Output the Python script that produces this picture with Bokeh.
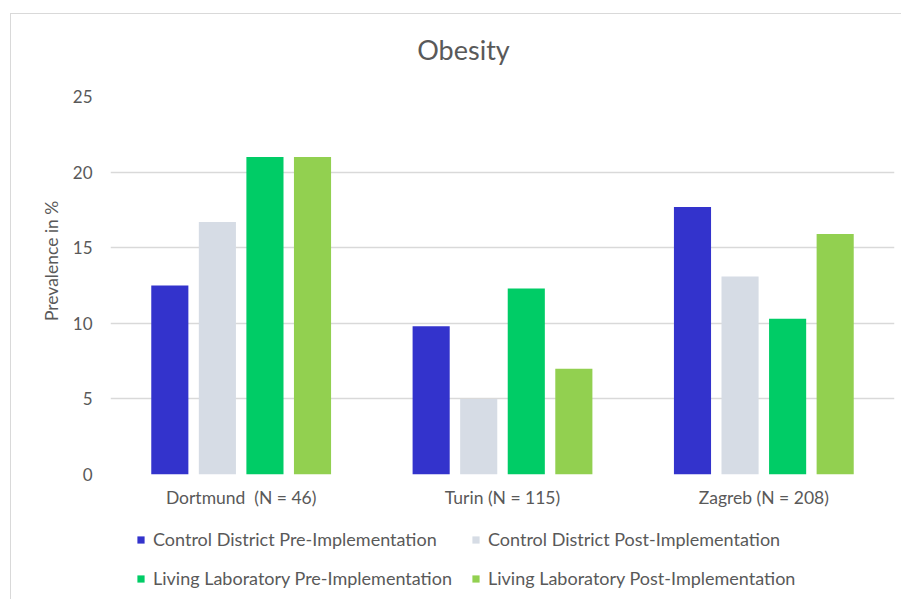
from bokeh.plotting import figure
from bokeh.models import FactorRange, Range1d, Legend, LegendItem, FixedTicker, ColumnDataSource, Label
from bokeh.layouts import column
from bokeh.transform import dodge
from bokeh.embed import file_html
from bokeh.resources import INLINE

cities = ["Dortmund\u00a0 (N = 46)", "Turin (N = 115)", "Zagreb (N = 208)"]
series_names = [
    "Control District Pre-Implementation",
    "Control District Post-Implementation",
    "Living Laboratory Pre-Implementation",
    "Living Laboratory Post-Implementation",
]
cd_pre = [12.5, 9.8, 17.7]
cd_post = [16.7, 5.0, 13.1]
ll_pre = [21.0, 12.3, 10.3]
ll_post = [21.0, 7.0, 15.9]
colors = ["#3333CC", "#D6DCE5", "#00CC66", "#92D050"]
y_ticks = [0, 5, 10, 15, 20, 25]
title_text = "Obesity"
y_label = "Prevalence in %"

FONT = "Lato"
GRAY = "#595959"
W = 890

source = ColumnDataSource(dict(city=cities, cd_pre=cd_pre, cd_post=cd_post, ll_pre=ll_pre, ll_post=ll_post))
keys = ["cd_pre", "cd_post", "ll_pre", "ll_post"]
offsets = [-0.273, -0.091, 0.091, 0.273]

xr = FactorRange(factors=cities)


def blank_fig(h, yr):
    f = figure(width=W, height=h, x_range=xr, y_range=yr,
               output_backend="svg", toolbar_location=None,
               x_axis_location=None, y_axis_location=None, min_border=0)
    f.grid.visible = False
    f.outline_line_color = None
    return f


# title strip
tfig = blank_fig(60, Range1d(0, 1))
tfig.add_layout(Label(x=353, y=25, x_units="screen", y_units="screen", text=title_text,
                      text_font=FONT, text_font_size="27px", text_color=GRAY,
                      text_align="center", text_baseline="middle"))

# main chart
p = figure(
    x_range=xr,
    y_range=Range1d(0, 25),
    width=W, height=445,
    output_backend="svg", toolbar_location=None,
    min_border_left=99, min_border_right=7, min_border_top=22, min_border_bottom=45,
)
p.outline_line_color = None

for k, off, c in zip(keys, offsets, colors):
    p.vbar(x=dodge("city", off, range=xr), top=k, width=0.142, source=source,
           fill_color=c, line_color=None)

p.xgrid.grid_line_color = None
p.ygrid.grid_line_color = "#d9d9d9"
p.ygrid.grid_line_width = 1.3
p.yaxis.ticker = FixedTicker(ticks=y_ticks)

for ax in (p.xaxis[0], p.yaxis[0]):
    ax.axis_line_color = None
    ax.major_tick_line_color = None
    ax.minor_tick_line_color = None
    ax.major_tick_out = 0
    ax.major_tick_in = 0
    ax.major_label_text_font = FONT
    ax.major_label_text_font_size = "17px"
    ax.major_label_text_color = GRAY
p.xaxis.major_label_text_font_size = "17.5px"
p.xaxis.major_label_standoff = 12
p.yaxis.major_label_standoff = 18
p.yaxis.axis_label = "\u00a0" * 11 + y_label
p.yaxis.axis_label_standoff = 8
p.yaxis.axis_label_text_font = FONT
p.yaxis.axis_label_text_font_size = "17.5px"
p.yaxis.axis_label_text_font_style = "normal"
p.yaxis.axis_label_text_color = GRAY

# legend strip (same series, zero-width and out of view, used only for legend swatches)
lfig = blank_fig(80, Range1d(-1001, -1000))
lrs = [lfig.vbar(x=dodge("city", off, range=xr), top=k, width=0, source=source,
                 fill_color=c, line_color=None)
       for k, off, c in zip(keys, offsets, colors)]
order = [0, 2, 1, 3]
items = [LegendItem(label=series_names[i], renderers=[lrs[i]]) for i in order]
legend = Legend(items=items, location=(26, 10), orientation="vertical", ncols=2,
                padding=0, margin=0, spacing=17, glyph_width=9, glyph_height=9,
                label_height=20, label_standoff=8, label_width=301,
                label_text_font=FONT, label_text_font_size="18px", label_text_color=GRAY,
                border_line_color=None, background_fill_alpha=0)
lfig.add_layout(legend, "center")

lay = column(tfig, p, lfig, spacing=0)
lay.margin = (13, 0, 0, 10)
lay.styles = {"border-top": "1px solid #d9d9d9", "border-left": "1px solid #d9d9d9"}

open("out.html", "w").write(file_html(lay, INLINE))
